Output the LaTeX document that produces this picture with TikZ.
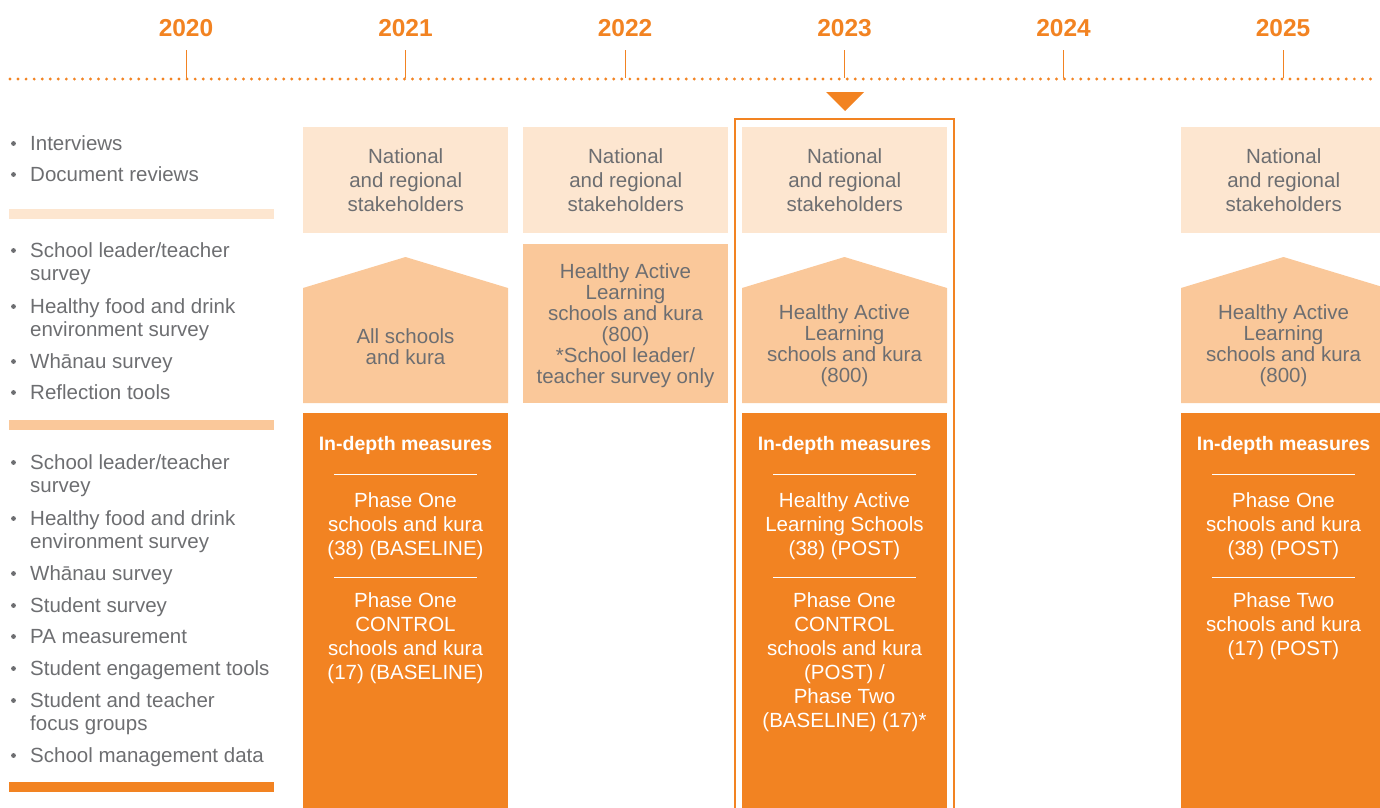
\documentclass[tikz,border=0pt]{standalone}
\usepackage{fontspec}
\setmainfont{Liberation Sans}
\usetikzlibrary{positioning}

\definecolor{hlorange}{HTML}{F28322}
\definecolor{hlpeach}{HTML}{FDE6D0}
\definecolor{hllight}{HTML}{FAC89A}
\definecolor{hlgrey}{HTML}{6D6E71}

\begin{document}
\begin{tikzpicture}[x=1pt, y=-1pt,
    year/.style={anchor=base, text=hlorange, inner sep=0, font=\fontsize{24.5}{28}\bfseries\selectfont},
    item/.style={anchor=base west, align=left, text=hlgrey, inner sep=0, font=\fontsize{20.5}{23.5}\selectfont},
    stakebox/.style={anchor=north west, fill=hlpeach, minimum width=205, minimum height=106, inner sep=0, align=center, text=hlgrey, font=\fontsize{20.5}{24}\selectfont},
    schooltext/.style={align=center, text=hlgrey, inner sep=0, font=\fontsize{20.5}{21}\selectfont},
    deepbox/.style={anchor=north west, fill=hlorange, minimum width=205, minimum height=400, inner sep=0},
    deeptext/.style={anchor=north, align=center, text=white, inner sep=0, font=\fontsize{20.5}{24}\selectfont},
    deephead/.style={anchor=base, text=white, inner sep=0, font=\fontsize{19.5}{24}\bfseries\selectfont}]
    \useasboundingbox (0,0) rectangle (1380,807);
    \clip (0,0) rectangle (1380,807);

    % Years, ticks and the dotted time line
    \foreach \yr/\x in {2020/186, 2021/405.5, 2022/625, 2023/844.5, 2024/1063.5, 2025/1283} {
        \node[year] (y\yr) at (\x,36) {\yr};
        \draw[hlorange, line width=1] (\x,50) -- (\x,78);
    }
    \draw[hlorange, line width=3.2, line cap=round, dash pattern=on 0pt off 8.05pt] (10,79) -- (1375,79);

    % Marker and frame for the current year
    \fill[hlorange] (826,92) -- (864,92) -- (845,111) -- cycle;
    \draw[hlorange, line width=1.2] (735,119) rectangle (954,815);

    % Left column: methods
    \fill[hlpeach] (9,209) rectangle (274,219);
    \fill[hllight] (9,420) rectangle (274,430);
    \fill[hlorange] (9,782) rectangle (274,792);
    \foreach \y in {150,181,257,313,368,399,469,525,580,612,643,675,707,762}
        \fill[hlgrey] (13.5,\y-6.5) circle (2.4);
    \node[item] (m1) at (30,150) {Interviews};
    \node[item] (m2) at (30,181) {Document reviews};
    \node[item] (s1) at (30,280.5) {School leader/teacher\\survey};
    \node[item] (s2) at (30,336.5) {Healthy food and drink\\environment survey};
    \node[item] (s3) at (30,368) {Wh\=anau survey};
    \node[item] (s4) at (30,399) {Reflection tools};
    \node[item] (d1) at (30,492.5) {School leader/teacher\\survey};
    \node[item] (d2) at (30,548.5) {Healthy food and drink\\environment survey};
    \node[item] (d3) at (30,580) {Wh\=anau survey};
    \node[item] (d4) at (30,612) {Student survey};
    \node[item] (d5) at (30,643) {PA measurement};
    \node[item] (d6) at (30,675) {Student engagement tools};
    \node[item] (d7) at (30,730.5) {Student and teacher\\focus groups};
    \node[item] (d8) at (30,762) {School management data};

    % Stakeholder boxes
    \node[stakebox] (k21) at (303,127) {National\\and regional\\stakeholders};
    \node[stakebox] (k22) at (523,127) {National\\and regional\\stakeholders};
    \node[stakebox] (k23) at (742,127) {National\\and regional\\stakeholders};
    \node[stakebox] (k25) at (1181,127) {National\\and regional\\stakeholders};

    % Survey of all schools
    \foreach \x in {303,742,1181}
        \fill[hllight] (\x,288) -- ++(102.5,-31) -- ++(102.5,31) -- ++(0,115) -- ++(-205,0) -- cycle;
    \fill[hllight] (523,244) rectangle (728,403);
    \node[schooltext] (a21) at (405.5,347) {All schools\\and kura};
    \node[schooltext] (a22) at (625.5,326) {Healthy Active\\Learning\\schools and kura\\(800)\\*School leader/\\teacher survey only};
    \node[schooltext] (a23) at (844.5,346) {Healthy Active\\Learning\\schools and kura\\(800)};
    \node[schooltext] (a25) at (1283.5,346) {Healthy Active\\Learning\\schools and kura\\(800)};

    % In-depth measures
    \foreach \x in {303,742,1181} {
        \node[deepbox] at (\x,413) {};
        \node[deephead] at (\x+102.5,450) {In-depth measures};
        \draw[white, line width=1] (\x+31,474) -- (\x+174,474);
        \draw[white, line width=1] (\x+31,577) -- (\x+174,577);
    }
    \node[deeptext] (p21a) at (405.5,492) {Phase One\\schools and kura\\(38) (BASELINE)};
    \node[deeptext] (p21b) at (405.5,592) {Phase One\\CONTROL\\schools and kura\\(17) (BASELINE)};
    \node[deeptext] (p23a) at (844.5,492) {Healthy Active\\Learning Schools\\(38) (POST)};
    \node[deeptext] (p23b) at (844.5,592) {Phase One\\CONTROL\\schools and kura\\(POST) /\\Phase Two\\(BASELINE) (17)*};
    \node[deeptext] (p25a) at (1283.5,492) {Phase One\\schools and kura\\(38) (POST)};
    \node[deeptext] (p25b) at (1283.5,592) {Phase Two\\schools and kura\\(17) (POST)};
\end{tikzpicture}
\end{document}
